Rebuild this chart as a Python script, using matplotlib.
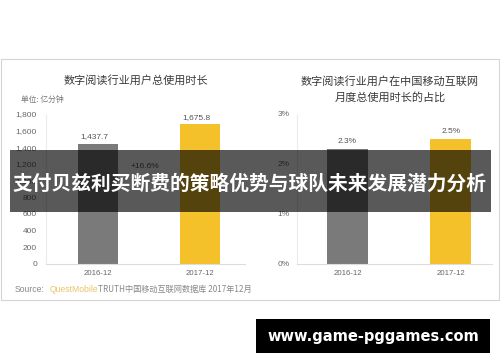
import matplotlib
matplotlib.use("Agg")
import matplotlib.pyplot as plt
from matplotlib.patches import Rectangle

plt.rcParams['font.family'] = ['Noto Sans CJK SC', 'DejaVu Sans']

# ---- data ----
categories = ["2016-12", "2017-12"]
total_minutes = [1437.7, 1675.8]          # 亿分钟
total_labels = ["1,437.7", "1,675.8"]
share_pct = [2.3, 2.5]                    # %
share_labels = ["2.3%", "2.5%"]
left_yticks = [0, 200, 400, 600, 800, 1000, 1200, 1400, 1600, 1800]
right_yticks = [0, 1, 2, 3]
bar_colors = ["#7a7a7a", "#f5c12a"]
growth_label = "+16.6%"
left_title = "数字阅读行业用户总使用时长"
right_title = "数字阅读行业用户在中国移动互联网\n月度总使用时长的占比"
unit_label = "单位: 亿分钟"
banner_text = "支付贝兹利买断费的策略优势与球队未来发展潜力分析"
watermark = "www.game-pggames.com"

W, H = 500, 362
fig = plt.figure(figsize=(W / 100, H / 100), dpi=100)
fig.patch.set_facecolor("white")


def fx(x):
    return x / W


def fy(y):
    return 1 - y / H


def rect_axes(x0, y0, x1, y1):
    return fig.add_axes([fx(x0), fy(y1), (x1 - x0) / W, (y1 - y0) / H])


# outer panel border
fig.patches.append(Rectangle((fx(0.5), fy(300)), fx(498.5), (300 - 59) / H,
                             transform=fig.transFigure, fill=False,
                             edgecolor="#d4d4d4", linewidth=0.8, zorder=0))

tick_font = dict(family="Liberation Sans", color="#666666")


def style(ax):
    for s in ("top", "right"):
        ax.spines[s].set_visible(False)
    ax.spines["left"].set_color("#ececec")
    ax.spines["bottom"].set_color("#dddddd")
    ax.spines["left"].set_linewidth(0.8)
    ax.spines["bottom"].set_linewidth(0.8)
    ax.tick_params(length=0)
    ax.set_facecolor("none")


# ---- left chart ----
axL = rect_axes(46, 114, 245, 264)
xs = list(range(len(categories)))
axL.bar(xs, total_minutes, width=0.39, color=bar_colors)
axL.set_xlim(-0.51, 1.44)
axL.set_ylim(0, 1800)
axL.set_yticks(left_yticks)
axL.set_yticklabels([f"{v:,}" for v in left_yticks], fontsize=6, **tick_font)
axL.set_xticks(xs)
axL.set_xticklabels(categories, fontsize=5.6, **tick_font)
axL.tick_params(axis="y", pad=6.5)
axL.tick_params(axis="x", pad=4.5)
style(axL)
for x, v, lab in zip(xs, total_minutes, total_labels):
    axL.text(x - 0.04, v + 45, lab, ha="center", va="bottom", fontsize=6,
             family="Liberation Sans", color="#555555", clip_on=False)
axL.text(0.46, 1175, growth_label, ha="center", va="center", fontsize=6,
         family="Liberation Sans", color="#555555")

# ---- right chart ----
axR = rect_axes(297, 114, 492, 264)
axR.bar(xs, share_pct, width=0.4, color=bar_colors)
axR.set_xlim(-0.49, 1.40)
axR.set_ylim(0, 3)
axR.set_yticks(right_yticks)
axR.set_yticklabels([f"{v}%" for v in right_yticks], fontsize=6, **tick_font)
axR.set_xticks(xs)
axR.set_xticklabels(categories, fontsize=5.6, **tick_font)
axR.tick_params(axis="y", pad=5.5)
axR.tick_params(axis="x", pad=4.5)
style(axR)
for x, v, lab in zip(xs, share_pct, share_labels):
    axR.text(x, v + 0.08, lab, ha="center", va="bottom", fontsize=6,
             family="Liberation Sans", color="#555555", clip_on=False)

# ---- titles & labels ----
fig.text(fx(136), fy(80), left_title, ha="center", va="center",
         fontsize=8, color="#3a3a3a")
fig.text(fx(390), fy(89), right_title, ha="center", va="center",
         fontsize=8, color="#3a3a3a", linespacing=1.6)
fig.text(fx(21), fy(100), unit_label, ha="left", va="center",
         fontsize=5.6, color="#777777")

# source line
fig.text(fx(15), fy(289), "Source:", ha="left", va="center", fontsize=6.2,
         family="Liberation Sans", color="#888888")
fig.text(fx(50), fy(289), "QuestMobile", ha="left", va="center", fontsize=6.2,
         family="Liberation Sans", color="#e9c56a")
fig.text(fx(98), fy(289), "TRUTH中国移动互联网数据库 2017年12月", ha="left",
         va="center", fontsize=5.9, color="#888888")

# ---- banner overlay ----
fig.patches.append(Rectangle((fx(10), fy(212)), (491 - 10) / W, (212 - 150) / H,
                             transform=fig.transFigure, facecolor="black",
                             alpha=0.65, edgecolor="none", zorder=5))
fig.text(fx(250), fy(184), banner_text, ha="center", va="center",
         fontsize=14.2, fontweight="bold", color="white", zorder=6)

# ---- watermark ----
fig.patches.append(Rectangle((fx(256), fy(353)), (490 - 256) / W, (353 - 319) / H,
                             transform=fig.transFigure, facecolor="black",
                             edgecolor="none", zorder=5))
fig.text(fx(373), fy(336), watermark, ha="center", va="center",
         fontsize=10.5, fontweight="bold", color="white",
         family="DejaVu Sans", zorder=6)

fig.savefig("out.png", dpi=100)
